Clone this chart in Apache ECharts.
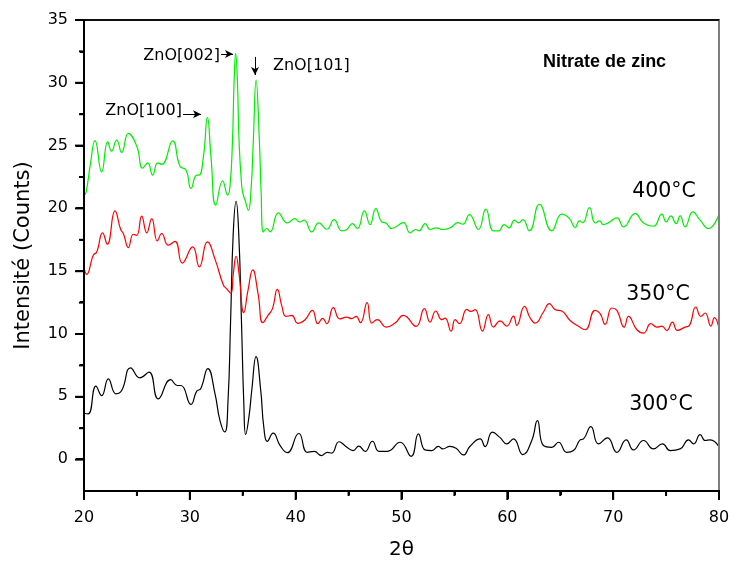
<!DOCTYPE html>
<html>
<head>
<meta charset="utf-8">
<script src="https://cdn.jsdelivr.net/npm/echarts@6/dist/echarts.min.js"></script>
<style>
html,body{margin:0;padding:0;background:#fff;}
#chart{width:729px;height:562px;}
</style>
</head>
<body>
<div id="chart"></div>
<script>
// ---- Data (2θ, intensity) ----
var xTicks = [20, 30, 40, 50, 60, 70, 80];
var yTicks = [0, 5, 10, 15, 20, 25, 30, 35];

var s300 = [[20.0,3.69],[20.4,3.64],[21.13,5.85],[21.67,5.1],[22.3,6.43],[23.02,5.24],[23.56,5.5],[24.41,7.31],[25.29,6.51],[26.14,6.96],[27.02,4.84],[28.19,6.36],[28.82,5.9],[29.17,5.9],[30.11,4.39],[30.65,5.45],[31.03,5.64],[31.7,7.25],[32.38,5.24],[32.85,3.1],[33.3,2.2],[33.6,4.5],[33.85,11],[34.1,18],[34.37,20.57],[34.62,18],[34.88,11],[35.1,4.5],[35.28,2.0],[35.6,3.5],[35.85,5.5],[36.26,8.2],[36.7,5.5],[37.0,2.5],[37.32,1.45],[37.87,2.1],[38.53,1.12],[39.2,0.55],[40.3,2.08],[41.1,0.58],[41.75,0.65],[42.45,0.32],[43.0,0.58],[43.4,0.52],[44.1,1.42],[44.75,1.05],[45.43,0.72],[45.97,1.08],[46.56,0.65],[47.25,1.46],[47.88,0.66],[48.67,0.66],[49.87,1.38],[50.91,0.26],[51.6,2.05],[52.23,0.77],[52.86,0.72],[53.49,1.06],[53.9,0.85],[54.59,1.06],[55.16,0.9],[55.85,0.37],[56.48,1.06],[57.43,1.65],[57.9,1.04],[58.59,2.18],[59.32,1.75],[59.95,1.25],[60.58,1.65],[61.46,0.4],[62.31,1.52],[62.84,3.11],[63.41,1.12],[64.2,0.98],[64.83,1.38],[65.62,0.58],[66.25,0.72],[66.88,1.57],[67.2,1.65],[67.89,2.63],[68.61,1.25],[69.46,1.73],[70.35,0.58],[71.23,1.57],[71.92,0.77],[72.87,1.52],[73.81,0.85],[74.66,1.25],[75.39,0.72],[76.33,0.85],[77.12,1.57],[77.6,1.25],[78.22,1.99],[78.69,1.52],[79.17,1.57],[79.96,1.06]];

var s350 = [[20.0,15.34],[20.25,14.75],[20.88,16.27],[21.2,16.53],[21.76,18.05],[22.2,17.15],[22.93,19.8],[23.47,18.32],[23.72,18.0],[24.19,16.88],[24.66,17.94],[24.98,17.86],[25.45,19.38],[25.93,18.05],[26.4,19.19],[26.93,17.41],[27.34,18.0],[27.97,17.07],[28.6,17.38],[29.29,15.65],[30.27,16.93],[30.9,15.34],[31.66,17.33],[32.4,15.9],[33.17,13.9],[33.49,13.6],[33.87,13.26],[34.11,14.8],[34.37,16.19],[34.65,14.8],[35.1,11.7],[35.5,13.5],[35.94,15.1],[36.45,13.2],[36.9,10.9],[37.4,11.5],[37.8,12.0],[38.27,13.55],[38.7,12.2],[39.09,11.4],[39.63,11.48],[40.2,10.85],[40.89,11.14],[41.58,11.88],[42.1,10.82],[42.55,11.25],[42.94,10.82],[43.56,12.1],[44.17,11.2],[44.83,11.35],[45.3,11.22],[45.71,11.4],[46.12,10.9],[46.75,12.5],[47.19,10.87],[47.72,11.14],[48.54,10.55],[49.39,10.87],[50.18,11.48],[51.38,10.61],[52.16,12.02],[52.7,10.95],[53.24,11.83],[53.81,11.14],[54.12,11.27],[54.69,10.23],[55.07,11.14],[55.48,10.82],[56.17,11.96],[56.55,11.8],[56.96,11.94],[57.65,10.23],[58.21,11.54],[58.69,10.55],[59.32,11.05],[59.95,10.63],[60.58,11.43],[60.9,10.69],[61.62,12.2],[62.16,11.27],[62.63,10.87],[63.41,11.75],[63.98,12.42],[64.52,11.94],[65.15,11.83],[65.93,11.08],[66.72,10.61],[67.35,10.34],[68.3,11.88],[68.77,11.62],[69.24,10.77],[69.88,12.07],[70.35,11.88],[71.04,10.55],[71.45,11.4],[72.24,10.34],[72.87,10.07],[73.56,10.82],[74.13,10.55],[74.6,10.63],[75.07,10.29],[75.6,10.95],[76.07,10.29],[76.8,10.55],[77.21,10.69],[77.81,12.15],[78.28,11.4],[78.69,11.67],[79.23,10.63],[79.57,11.3],[79.96,10.61]];

var s400 = [[20.0,21.05],[20.2,21.3],[20.6,23.5],[21.04,25.4],[21.67,22.9],[22.24,25.3],[22.6,24.56],[23.09,25.44],[23.56,24.46],[24.19,25.97],[24.98,24.96],[25.55,23.2],[26.02,23.63],[26.49,22.65],[26.96,23.63],[27.34,23.5],[28.38,25.38],[29.07,23.36],[29.64,23.05],[30.11,21.59],[30.65,22.65],[30.87,22.65],[31.28,24.1],[31.66,27.25],[32.0,24.1],[32.45,20.25],[33.1,22.2],[33.58,21.05],[33.8,21.8],[34.03,25.4],[34.18,30.0],[34.33,32.35],[34.5,30.0],[34.65,25.4],[34.9,21.8],[35.06,21.05],[35.2,20.7],[35.53,19.86],[35.78,21.45],[36.0,25.4],[36.26,30.22],[36.57,25.4],[36.73,21.45],[36.95,18.13],[37.27,18.4],[37.58,18.13],[38.37,19.64],[39.22,18.84],[39.94,19.19],[40.35,18.92],[40.8,19.06],[41.52,18.13],[42.18,18.84],[42.94,18.34],[43.63,19.11],[44.36,18.21],[44.83,18.32],[45.36,18.79],[45.83,18.4],[46.49,19.8],[47.03,18.71],[47.57,19.99],[48.14,18.92],[48.52,18.84],[49.08,18.4],[50.18,18.87],[50.81,18.05],[51.35,18.32],[51.66,18.21],[52.23,18.79],[52.7,18.32],[53.27,18.45],[53.96,18.32],[54.75,18.53],[55.32,18.87],[55.79,18.74],[56.42,19.51],[57.27,18.32],[57.97,19.94],[58.69,18.21],[59.16,18.21],[59.7,18.71],[60.17,18.45],[60.67,19.06],[61.05,18.84],[61.46,19.11],[62.09,18.21],[63.03,20.33],[64.2,18.21],[65.15,19.54],[65.87,19.19],[66.41,18.48],[66.82,19.0],[67.13,18.87],[67.76,20.07],[68.3,18.84],[68.7,19.0],[69.08,18.71],[69.56,18.87],[70.35,19.24],[70.98,18.53],[72.08,19.59],[72.87,18.84],[73.81,18.58],[74.6,19.54],[75.01,18.92],[75.45,19.4],[75.95,18.79],[76.33,19.4],[76.8,18.53],[77.53,19.72],[78.22,19.06],[79.01,18.4],[79.96,19.46]];

var peakLabels = [["ZnO[100]", 29.26, 27.75, "right"], ["ZnO[002]", 32.85, 32.15, "right"], ["ZnO[101]", 37.86, 31.35, "left"]];
var arrows = [[29.36, 27.5, 31.06, 27.5], [32.95, 32.3, 34.08, 32.3], [36.16, 32.06, 36.16, 30.62]];
var seriesLabels = [["400°C", 71.8, 21.3], ["350°C", 71.23, 13.1], ["300°C", 71.51, 4.4]];
var titleText = ["Nitrate de zinc", 63.38, 31.66];
var xRange = [20, 80], yRange = [-2.5, 35];

var chart = echarts.init(document.getElementById('chart'), null, {renderer: 'canvas', width: 729, height: 562});

var option = {
  animation: false,
  backgroundColor: '#fff',
  grid: [
    {left: 84, right: 10, top: 20, bottom: 71, outerBoundsMode: 'none', containLabel: false},
    {left: 84, right: 10, top: 20, bottom: 103, outerBoundsMode: 'none', containLabel: false}
  ],
  xAxis: [
    {gridIndex: 0, type: 'value', min: xRange[0], max: xRange[1], interval: 10, position: 'bottom',
     name: '2θ', nameLocation: 'middle', nameGap: 49,
     nameTextStyle: {fontFamily: 'DejaVu Sans', fontSize: 20, color: '#000000'},
     axisLine: {show: true, onZero: false, lineStyle: {color: '#000000', width: 2, opacity: 1}},
     axisTick: {show: true, inside: false, length: 8, lineStyle: {color: '#000000', width: 2, opacity: 1}},
     minorTick: {show: true, splitNumber: 2, length: 4, lineStyle: {color: '#000000', width: 2, opacity: 1}},
     axisLabel: {margin: 19, fontFamily: 'DejaVu Sans', fontSize: 16, color: '#000000'},
     splitLine: {show: false}, minorSplitLine: {show: false}},
    {gridIndex: 1, type: 'value', min: xRange[0], max: xRange[1], show: false},
    {gridIndex: 0, type: 'value', min: xRange[0], max: xRange[1], position: 'top',
     axisLine: {show: true, onZero: false, lineStyle: {color: '#000000', width: 1.5}},
     axisTick: {show: false}, axisLabel: {show: false}, splitLine: {show: false}}
  ],
  yAxis: [
    {gridIndex: 0, type: 'value', min: yRange[0], max: yRange[1],
     name: 'Intensité (Counts)', nameLocation: 'middle', nameGap: 50,
     nameTextStyle: {fontFamily: 'DejaVu Sans', fontSize: 21, color: '#000000'},
     axisLine: {show: true, onZero: false, lineStyle: {color: '#000000', width: 2, opacity: 1}},
     axisTick: {show: false}, axisLabel: {show: false}, splitLine: {show: false}},
    {gridIndex: 1, type: 'value', min: 0, max: 35, interval: 5,
     axisLine: {show: false},
     axisTick: {show: true, inside: false, length: 8, lineStyle: {color: '#000000', width: 2, opacity: 1}},
     minorTick: {show: true, splitNumber: 2, length: 4, lineStyle: {color: '#000000', width: 2, opacity: 1}},
     axisLabel: {margin: 16, fontFamily: 'DejaVu Sans', fontSize: 16, color: '#000000'},
     splitLine: {show: false}, minorSplitLine: {show: false}},
    {gridIndex: 0, type: 'value', min: yRange[0], max: yRange[1], position: 'right',
     axisLine: {show: true, onZero: false, lineStyle: {color: '#7f7f7f', width: 2}},
     axisTick: {show: false}, axisLabel: {show: false}, splitLine: {show: false}}
  ],
  series: [
    {name: '300°C', type: 'line', xAxisIndex: 0, yAxisIndex: 0, data: s300, smooth: 0.5,
     showSymbol: false, lineStyle: {color: '#000000', width: 1.2}},
    {name: '350°C', type: 'line', xAxisIndex: 0, yAxisIndex: 0, data: s350, smooth: 0.5,
     showSymbol: false, lineStyle: {color: '#ff0000', width: 1.2}},
    {name: '400°C', type: 'line', xAxisIndex: 0, yAxisIndex: 0, data: s400, smooth: 0.5,
     showSymbol: false, lineStyle: {color: '#00ee00', width: 1.2},
     markLine: {silent: true, symbol: ['none', 'arrow'], symbolSize: [6, 8],
       label: {show: false}, lineStyle: {color: '#000', width: 1, type: 'solid'},
       data: arrows.map(function (a) { return [{coord: [a[0], a[1]]}, {coord: [a[2], a[3]]}]; })}}
  ]
};
chart.setOption(option);

function px(x, y) { return chart.convertToPixel({xAxisIndex: 0, yAxisIndex: 0}, [x, y]); }
var g = [];
function seg(p, q, color, w) {
  g.push({type: 'line', silent: true, z: 100,
    shape: {x1: p[0], y1: p[1], x2: q[0], y2: q[1]}, style: {stroke: color, lineWidth: w}});
}
// frame (positions from the library's scales)
var bl = px(xRange[0], yRange[0]), tl = px(xRange[0], yRange[1]);
var br = px(xRange[1], yRange[0]), tr = px(xRange[1], yRange[1]);
seg([tr[0], tr[1]], [br[0], br[1]], '#7f7f7f', 2);
seg([tl[0] - 1, tl[1]], [tr[0], tr[1]], '#000', 1.5);
seg([bl[0], bl[1] + 1], [tl[0], tl[1] - 1], '#000', 2);
seg([bl[0] - 1, bl[1]], [br[0] + 1, br[1]], '#000', 2);
// ticks at the axis tick values
xTicks.forEach(function (v, i) {
  var p = px(v, yRange[0]);
  seg([p[0], p[1]], [p[0], p[1] + 9], '#000', 2);
  if (i < xTicks.length - 1) {
    var m = px((v + xTicks[i + 1]) / 2, yRange[0]);
    seg([m[0], m[1]], [m[0], m[1] + 5], '#000', 2);
  }
});
yTicks.forEach(function (v, i) {
  var p = px(xRange[0], v);
  seg([p[0], p[1]], [p[0] - 9, p[1]], '#000', 2);
  if (i < yTicks.length - 1) {
    var m = px(xRange[0], (v + yTicks[i + 1]) / 2);
    seg([m[0], m[1]], [m[0] - 5, m[1]], '#000', 2);
  }
});
peakLabels.forEach(function (l) {
  var p = px(l[1], l[2]);
  g.push({type: 'text', x: p[0], y: p[1], silent: true,
    style: {text: l[0], fontFamily: 'DejaVu Sans', fontSize: 16, fill: '#000', align: l[3], verticalAlign: 'middle'}});
});
seriesLabels.forEach(function (l) {
  var p = px(l[1], l[2]);
  g.push({type: 'text', x: p[0], y: p[1], silent: true,
    style: {text: l[0], fontFamily: 'DejaVu Sans', fontSize: 20.5, fill: '#000', align: 'left', verticalAlign: 'middle'}});
});
(function () {
  var p = px(titleText[1], titleText[2]);
  g.push({type: 'text', x: p[0], y: p[1], silent: true,
    style: {text: titleText[0], fontFamily: 'Liberation Sans', fontSize: 18, fontWeight: 'bold', fill: '#000', align: 'left', verticalAlign: 'middle'}});
})();
chart.setOption({graphic: g});
</script>
</body>
</html>
